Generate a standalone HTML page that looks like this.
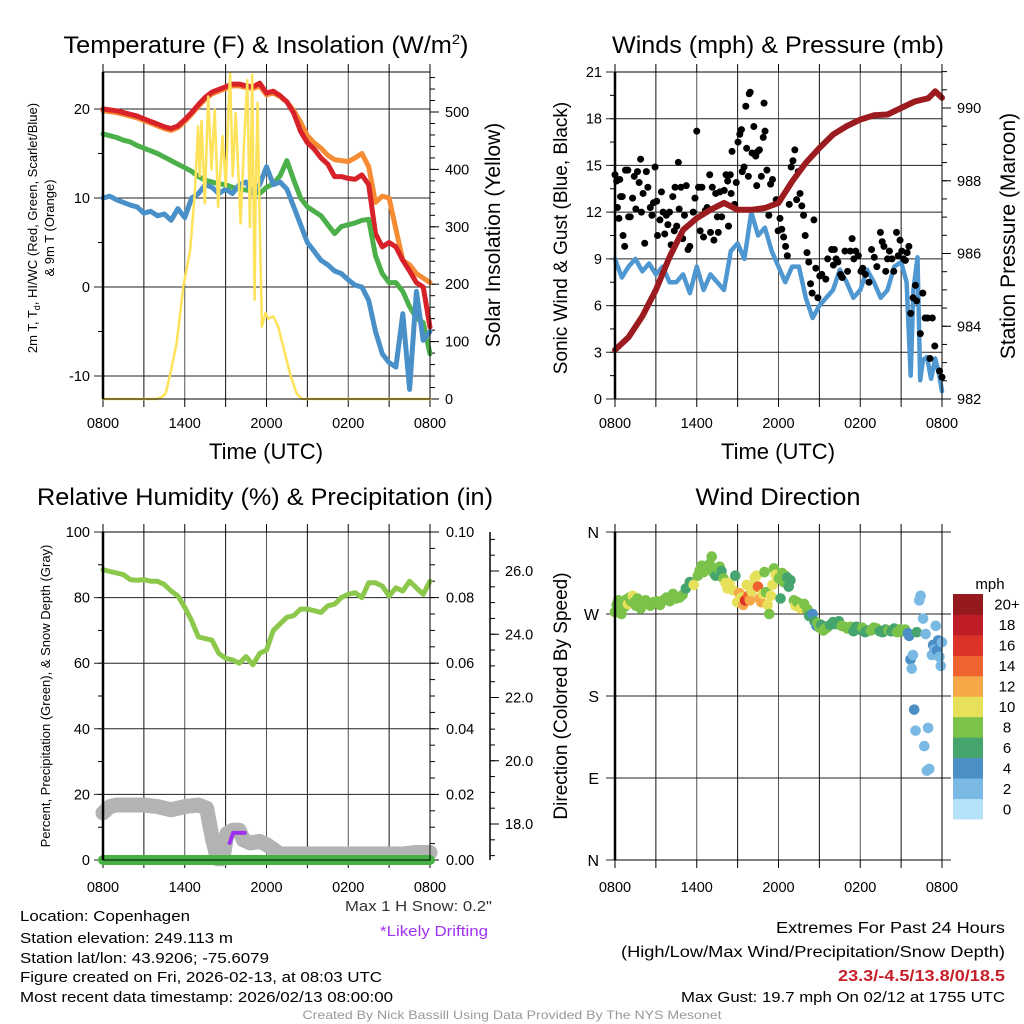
<!DOCTYPE html>
<html><head><meta charset="utf-8"><style>
html,body{margin:0;padding:0;background:#fff}
svg{display:block;font-family:"Liberation Sans",sans-serif}
</style></head><body>
<svg id="chart" width="1024" height="1024" viewBox="0 0 1024 1024" xmlns="http://www.w3.org/2000/svg">
<rect x="0" y="0" width="1024" height="1024" fill="#fff"/>
<text x="266" y="53" font-size="24" text-anchor="middle" textLength="405" lengthAdjust="spacingAndGlyphs">Temperature (F) &amp; Insolation (W/m<tspan dy="-9" font-size="14">2</tspan><tspan dy="9">)</tspan></text>
<text x="778" y="53" font-size="24" text-anchor="middle" textLength="332" lengthAdjust="spacingAndGlyphs">Winds (mph) &amp; Pressure (mb)</text>
<text x="265" y="505" font-size="24" text-anchor="middle" textLength="456" lengthAdjust="spacingAndGlyphs">Relative Humidity (%) &amp; Precipitation (in)</text>
<text x="778" y="505" font-size="24" text-anchor="middle" textLength="165" lengthAdjust="spacingAndGlyphs">Wind Direction</text>
<text x="266" y="459" font-size="22" text-anchor="middle">Time (UTC)</text>
<text x="778" y="459" font-size="22" text-anchor="middle">Time (UTC)</text>
<text transform="translate(37,228) rotate(-90)" font-size="13" text-anchor="middle">2m T, T<tspan font-size="9" dy="3">d</tspan><tspan dy="-3">, HI/WC (Red, Green, Scarlet/Blue)</tspan></text>
<text transform="translate(54,228) rotate(-90)" font-size="13" text-anchor="middle">&amp; 9m T (Orange)</text>
<text transform="translate(500,235) rotate(-90)" font-size="21" text-anchor="middle">Solar Insolation (Yellow)</text>
<text transform="translate(567,238) rotate(-90)" font-size="19" text-anchor="middle">Sonic Wind &amp; Gust (Blue, Black)</text>
<text transform="translate(1015,236) rotate(-90)" font-size="21" text-anchor="middle">Station Pressure (Maroon)</text>
<text transform="translate(50,696) rotate(-90)" font-size="13" text-anchor="middle">Percent, Precipitation (Green), &amp; Snow Depth (Gray)</text>
<text transform="translate(567,696) rotate(-90)" font-size="19" text-anchor="middle">Direction (Colored By Speed)</text>
<g id="plots"></g>
<text x="20" y="921" font-size="15" textLength="170" lengthAdjust="spacingAndGlyphs">Location: Copenhagen</text>
<text x="20" y="943" font-size="15" textLength="213" lengthAdjust="spacingAndGlyphs">Station elevation: 249.113 m</text>
<text x="20" y="963" font-size="15" textLength="249" lengthAdjust="spacingAndGlyphs">Station lat/lon: 43.9206; -75.6079</text>
<text x="20" y="982" font-size="15" textLength="362" lengthAdjust="spacingAndGlyphs">Figure created on Fri, 2026-02-13, at 08:03 UTC</text>
<text x="20" y="1002" font-size="15" textLength="373" lengthAdjust="spacingAndGlyphs">Most recent data timestamp: 2026/02/13 08:00:00</text>
<text x="345" y="911" font-size="15" fill="#333" textLength="147" lengthAdjust="spacingAndGlyphs">Max 1 H Snow: 0.2"</text>
<text x="380" y="936" font-size="15" fill="#a033f0" textLength="108" lengthAdjust="spacingAndGlyphs">*Likely Drifting</text>
<text x="1005" y="933" font-size="16" text-anchor="end" textLength="229" lengthAdjust="spacingAndGlyphs">Extremes For Past 24 Hours</text>
<text x="1005" y="957" font-size="16" text-anchor="end" textLength="384" lengthAdjust="spacingAndGlyphs">(High/Low/Max Wind/Precipitation/Snow Depth)</text>
<text x="1005" y="981" font-size="16" font-weight="bold" fill="#c8202a" text-anchor="end" textLength="167" lengthAdjust="spacingAndGlyphs">23.3/-4.5/13.8/0/18.5</text>
<text x="1005" y="1002" font-size="15" text-anchor="end" textLength="324" lengthAdjust="spacingAndGlyphs">Max Gust: 19.7 mph On 02/12 at 1755 UTC</text>
<text x="512" y="1019" font-size="12" fill="#999" text-anchor="middle" textLength="419" lengthAdjust="spacingAndGlyphs">Created By Nick Bassill Using Data Provided By The NYS Mesonet</text>
</svg>
<script>
// ---------- data ----------
const halfHours = [0,0.5,1,1.5,2,2.5,3,3.5,4,4.5,5,5.5,6,6.5,7,7.5,8,8.5,9,9.5,10,10.5,11,11.5,12,12.5,13,13.5,14,14.5,15,15.5,16,16.5,17,17.5,18,18.5,19,19.5,20,20.5,21,21.5,22,22.5,23,23.5,24];
const timeTickLabels = ["0800","1400","2000","0200","0800"];
const tempRed = [20.0,19.9,19.8,19.6,19.4,19.2,18.9,18.6,18.3,18.0,17.8,18.1,18.8,19.6,20.5,21.3,21.9,22.2,22.5,22.8,22.8,22.6,22.5,22.9,21.8,22.0,21.5,20.8,19.5,17.5,16.2,15.5,14.5,13.8,12.4,12.4,12.2,12.1,12.6,11.5,6.0,4.5,5.0,4.5,3.0,1.8,0.5,0.0,-4.5];
const tempOrange = [19.8,19.7,19.6,19.4,19.2,19.0,18.7,18.4,18.1,17.8,17.6,17.9,18.6,19.4,20.3,21.1,21.7,22.0,22.3,22.6,22.6,22.4,22.3,22.6,21.6,21.8,21.4,20.8,19.8,18.5,17.0,16.2,15.6,14.8,14.3,14.2,14.1,14.5,15.0,13.5,9.5,10.2,10.0,6.5,3.0,2.5,1.5,1.0,0.5];
const tempGreen = [17.2,17.0,16.8,16.5,16.3,15.9,15.6,15.3,15.0,14.6,14.2,13.8,13.4,13.0,12.4,12.0,11.8,11.6,11.5,11.2,11.0,10.9,10.8,10.5,11.2,11.6,12.5,14.2,12.0,10.0,9.0,8.5,8.0,7.0,6.0,6.8,7.0,7.2,7.5,7.6,3.5,1.5,0.5,0.5,-0.5,-2.2,-3.5,-4.0,-7.5];
const tempBlue = [10.0,10.2,9.8,9.5,9.2,9.0,8.3,8.5,8.0,8.2,7.5,8.8,7.8,10.0,10.5,11.5,11.2,10.5,11.0,10.5,11.5,11.8,10.5,11.5,13.5,11.5,11.8,11.0,9.0,7.0,5.0,4.0,3.0,2.5,1.8,1.5,0.8,0.2,0.0,-1.5,-5.0,-7.5,-8.5,-9.0,-3.0,-11.5,-0.5,-6.0,-5.0];
const solarHours = [0,3.9,4.3,4.6,4.9,5.4,5.9,6.4,6.74,6.98,7.1,7.23,7.47,7.72,7.96,8.2,8.45,8.77,9.01,9.21,9.33,9.52,9.74,10.1,10.34,10.59,10.78,10.95,11.13,11.2,11.35,11.49,11.66,11.93,12.13,12.5,12.86,13.23,13.72,14.2,14.6,24];
const solarValues = [0,0,3,10,40,97,196,260,359,475,388,484,341,527,400,504,335,458,370,504,568,388,498,306,440,556,300,565,173,350,516,318,126,150,140,144,126,91,45,10,0,0];
const windHours = [0,0.5,1,1.5,2,2.5,3,3.5,4,4.5,5,5.5,6,6.5,7,7.5,8,8.5,9,9.5,10,10.5,11,11.5,12,12.5,13,13.5,14,14.5,15,15.5,16,16.5,17,17.5,18,18.5,19,19.5,20,20.5,21,21.4,21.7,21.9,22.2,22.4,22.6,22.9,23.2,23.5,23.8,24];
const windSpeed = [9.0,7.8,8.5,9.0,8.2,8.7,8.0,8.5,7.5,7.5,8.0,6.8,8.5,7.0,8.0,7.5,7.0,9.5,10.0,9.0,12.0,10.5,11.0,9.5,8.5,7.5,8.5,8.5,6.5,5.2,6.0,6.5,7.0,8.3,7.5,6.5,7.0,8.3,7.5,6.5,7.0,8.5,8.8,7.5,1.5,7.0,9.1,1.2,2.5,2.7,1.3,2.6,1.5,0.5];
const pressureHours = [0,1,2,3,4,5,6,7,8,9,10,11,12,13,14,15,16,17,18,19,20,21,22,23,23.5,24];
const pressureValues = [983.35,983.7,984.27,985.0,985.9,986.65,986.97,987.2,987.39,987.2,987.2,987.25,987.39,987.98,988.49,988.9,989.27,989.5,989.68,989.8,989.82,990.0,990.18,990.27,990.46,990.28];
const gustHours = [0,0.12,0.18,0.29,0.35,0.41,0.53,0.59,0.71,0.77,0.94,1.0,1.12,1.29,1.41,1.53,1.65,1.77,1.88,1.94,2.06,2.18,2.3,2.41,2.59,2.71,2.82,2.94,3.06,3.12,3.3,3.41,3.53,3.65,3.77,3.88,4.0,4.12,4.24,4.35,4.41,4.53,4.65,4.71,4.84,4.97,5.1,5.23,5.36,5.49,5.74,5.87,6.0,6.13,6.25,6.38,6.5,6.63,6.76,6.95,7.01,7.14,7.26,7.39,7.51,7.58,7.7,7.83,8.02,8.15,8.27,8.33,8.46,8.52,8.59,8.78,8.9,9.03,9.16,9.28,9.34,9.47,9.6,9.66,9.79,9.85,9.92,10.06,10.19,10.33,10.4,10.47,10.6,10.74,10.88,10.94,11.01,11.15,11.29,11.42,11.56,11.83,11.97,12.11,12.24,12.38,12.52,12.65,12.79,12.93,13.06,13.2,13.33,13.45,13.58,13.71,13.84,13.96,14.09,14.22,14.35,14.47,14.6,14.74,14.89,15.03,15.18,15.47,15.61,15.9,16.03,16.1,16.23,16.36,16.55,16.68,16.88,17.07,17.27,17.4,17.53,17.66,17.86,18.05,18.18,18.38,18.64,18.83,19.03,19.22,19.48,19.61,19.74,19.87,20.0,20.14,20.33,20.46,20.66,20.79,20.92,21.05,21.18,21.31,21.44,21.57,21.7,21.88,22.05,22.14,22.41,22.59,22.76,22.94,23.12,23.29,23.47,23.82,24.0];
const gustValues = [14.4,14.0,12.3,11.6,14.1,13.0,13.0,10.5,9.8,14.7,14.7,11.7,11.7,12.9,14.3,12.2,14.6,13.9,15.4,12.0,13.2,10.0,14.6,13.6,12.3,11.8,12.6,14.9,12.7,10.5,11.5,13.3,12.0,10.6,11.8,11.2,12.0,9.9,13.0,10.8,13.6,11.1,15.2,12.2,13.6,10.3,11.8,13.7,9.6,9.8,12.0,12.9,17.2,13.6,10.8,13.6,10.4,12.1,12.3,14.4,10.7,13.6,10.2,13.2,11.7,10.7,13.3,11.7,13.4,14.4,14.0,11.1,14.4,13.2,15.9,12.5,13.9,16.5,17.0,17.3,14.6,14.9,18.8,16.1,14.3,19.6,19.7,15.8,17.5,15.6,13.7,15.9,16.0,14.3,16.8,19.0,17.2,14.7,11.8,13.8,14.1,12.8,10.8,11.6,10.9,10.4,9.8,9.2,12.5,14.9,15.3,16.0,12.8,14.6,13.2,12.4,11.8,10.5,9.4,8.8,7.4,6.8,11.5,8.4,6.5,7.9,8.0,7.7,9.0,9.6,8.6,9.6,9.0,8.8,8.0,7.8,9.5,8.2,9.5,10.3,9.0,9.5,9.2,8.2,8.4,8.0,7.5,9.6,9.1,8.5,10.7,10.1,9.8,8.2,9.0,9.5,9.0,8.2,10.7,9.2,10.2,9.5,9.0,8.9,9.4,9.8,5.5,6.5,7.3,6.3,4.2,6.8,5.2,5.2,2.6,5.2,3.4,1.8,1.4];
const rhHumidity = [88.5,88,87.5,87,85.5,85.3,85.5,85,85,84,82,80.5,77,73,68,67.5,67,63,61.5,61,60,62,59.5,63,64,70,72,74,74.5,76.5,76.5,76,75.5,77.5,78,80,81,81.5,80,84.5,84.5,83.5,80.5,83,82,85,83,81,85];
const precipValues = [0,0,0,0,0,0,0,0,0,0,0,0,0,0,0,0,0,0,0,0,0,0,0,0,0,0,0,0,0,0,0,0,0,0,0,0,0,0,0,0,0,0,0,0,0,0,0,0,0];
const snowHours = [0,0.5,1,2,3,4,5,6,7,7.6,8.0,8.4,8.8,9.1,9.5,10,10.3,10.8,11.5,12,12.5,13,14,18,22,23,24];
const snowDepth = [18.35,18.55,18.6,18.6,18.6,18.55,18.45,18.55,18.6,18.5,17.6,16.9,16.9,17.7,17.8,17.8,17.5,17.4,17.45,17.35,17.2,17.05,17.05,17.05,17.05,17.1,17.1];
const driftHours = [9.3,9.55,10.4];
const driftDepth = [17.4,17.72,17.72];
const dirHours = [0,0.12,0.24,0.35,0.47,0.59,0.71,0.83,0.95,1.06,1.18,1.3,1.42,1.54,1.65,1.77,1.89,2.01,2.13,2.25,2.36,2.6,2.84,3.07,3.31,3.55,3.78,4.02,4.26,4.49,4.73,4.96,5.2,5.49,5.78,6.08,6.22,6.37,6.51,6.81,6.95,7.1,7.24,7.39,7.53,7.68,7.82,7.96,8.11,8.25,8.4,8.68,8.83,8.97,9.12,9.26,9.41,9.55,9.67,9.79,9.9,10.02,10.14,10.26,10.38,10.49,10.61,10.73,10.85,10.97,11.08,11.2,11.32,11.44,11.56,11.67,11.79,12.03,12.15,12.26,12.38,12.5,12.63,12.75,12.88,13.13,13.25,13.38,13.63,13.88,14.13,14.25,14.5,14.64,14.79,14.86,15.0,15.14,15.29,15.43,15.57,15.79,16.0,16.21,16.43,16.64,16.86,17.07,17.29,17.5,17.71,17.93,18.14,18.36,18.57,18.79,19.0,19.21,19.43,19.64,19.86,20.07,20.29,20.5,20.71,20.93,21.14,21.29,21.5,21.59,21.69,21.78,21.87,21.96,22.06,22.15,22.33,22.43,22.61,22.7,22.8,22.89,22.98,23.07,23.26,23.35,23.44,23.54,23.63,23.72,23.81,23.91,24.0];
const dirValues = [272,280,285,276,270,282,278,286,281,288,284,290,283,279,287,282,276,283,281,285,282,279,283,284,280,285,288,284,292,287,288,291,298,305,302,312,318,323,316,319,325,333,315,312,320,322,317,309,304,298,304,296,312,283,293,288,280,285,302,290,285,295,300,310,312,300,287,283,292,316,294,280,270,290,302,320,313,309,287,315,305,312,310,300,307,285,279,283,276,281,275,268,270,262,257,260,255,258,252,254,255,258,261,259,262,257,256,254,256,251,256,253,255,250,252,252,255,254,251,250,253,252,251,254,250,253,251,253,249,246,220,210,225,165,142,250,285,290,265,125,248,98,145,100,225,236,231,257,230,241,223,213,239];
const dirSpeeds = [7,8,8,8,8,8,8,8,9,8,8,10,8,8,8,8,8,8,8,8,8,8,8,8,8,8,8,8,8,8,8,7,6,6,10,8,8,8,8,8,8,8,8,6,8,8,6,8,10,10,10,10,6,10,12,10,12,16,10,13,12,10,10,10,10,14,12,12,10,8,8,10,8,10,10,8,10,8,6,8,8,8,6,6,6,8,10,8,10,8,8,5,4,5,4,8,8,6,8,8,8,6,6,6,6,8,8,8,8,6,6,6,8,6,6,8,8,8,6,6,6,8,6,6,8,8,8,8,4,4,3,1,1,3,1,6,2,1,2,1,2,1,1,1,2,3,1,2,3,3,2,1,2];
const speedBinLabels = ["0","2","4","6","8","10","12","14","16","18","20+"];
const speedBinColors = ["#b4e2f8","#7ab9e4","#4b8fc6","#46a56e","#7bc24a","#e6e05b","#f6a748","#ef6331","#db3229","#bf1e27","#951a1d"];
const tempTicks = [-10,0,10,20];
const solarTicks = [0,100,200,300,400,500];
const windTicks = [0,3,6,9,12,15,18,21];
const pressureTicks = [982,984,986,988,990];
const rhTicks = [0,20,40,60,80,100];
const precipTicks = ["0.00","0.02","0.04","0.06","0.08","0.10"];
const snowTicks = ["18.0","20.0","22.0","24.0","26.0"];
const dirTickLabels = ["N","E","S","W","N"];
</script>
<script>
const NS = "http://www.w3.org/2000/svg";
const root = document.getElementById("plots");
function mk(tag, attrs, parent) {
  const el = document.createElementNS(NS, tag);
  for (const k in attrs) el.setAttribute(k, attrs[k]);
  (parent || root).appendChild(el);
  return el;
}
function lin(d0, d1, r0, r1) { return v => r0 + (v - d0) * (r1 - r0) / (d1 - d0); }
function pathFrom(xs, ys, fx, fy) {
  let d = "";
  for (let i = 0; i < xs.length; i++) d += (i ? "L" : "M") + fx(xs[i]).toFixed(1) + "," + fy(ys[i]).toFixed(1);
  return d;
}
function drawLine(xs, ys, fx, fy, color, w, name) {
  const p = mk("path", {d: pathFrom(xs, ys, fx, fy), fill: "none", stroke: color, "stroke-width": w, "stroke-linejoin": "round", "stroke-linecap": "round"});
  
  
  return p;
}
function txt(x, y, s, size, anchor, name, color) {
  const t = mk("text", {x: x, y: y, "font-size": size, "text-anchor": anchor, fill: color || "#000"});
  t.textContent = s;
  
  
  return t;
}
function seg(x1, y1, x2, y2, color, w, name) {
  const l = mk("line", {x1: x1, y1: y1, x2: x2, y2: y2, stroke: color, "stroke-width": w});
  
  
  return l;
}
function frame(x0, y0, x1, y1, labelY, prefix) {
  const fx = lin(0, 24, x0, x1);
  for (let h = 3; h < 24; h += 3) seg(fx(h), y0, fx(h), y1, (h % 6 === 0) ? "#555" : "#111", 1, prefix + "-vgrid");
  for (let h = 0; h <= 24; h += 3) {
    seg(fx(h), y0 - 8, fx(h), y0, "#000", 1, prefix + "-top-tick");
    seg(fx(h), y1, fx(h), y1 + 8, "#000", 1, prefix + "-bottom-tick");
  }
  for (let i = 0; i < timeTickLabels.length; i++) txt(fx(i * 6), labelY, timeTickLabels[i], 14.5, "middle", prefix + "-x-tick-label");
  return fx;
}
function border(x0, y0, x1, y1, prefix) {
  const r = mk("rect", {x: x0, y: y0, width: x1 - x0, height: y1 - y0, fill: "none", stroke: "#000", "stroke-width": 1});
  
  
  seg(x0, y0, x0, y1, "#000", 2.5, prefix + "-left-axis-line");
}
function leftAxis(x0, x1, fy, ticks, labels, minorStep, lo, hi, prefix, grid) {
  for (let v = lo; v <= hi + 1e-9; v += minorStep) seg(x0 - 5, fy(v), x0, fy(v), "#000", 1, prefix + "-left-minor-tick");
  ticks.forEach((v, i) => {
    if (grid) seg(x0 - 9, fy(v), x1, fy(v), "#222", 1, prefix + "-hgrid");
    txt(x0 - 13, fy(v) + 5, labels[i], 14.5, "end", prefix + "-left-tick-label");
  });
}
function rightAxis(x1, fy, ticks, labels, minorStep, lo, hi, prefix, off) {
  for (let v = lo; v <= hi + 1e-9; v += minorStep) seg(x1, fy(v), x1 + 5, fy(v), "#000", 1, prefix + "-right-minor-tick");
  ticks.forEach((v, i) => {
    seg(x1, fy(v), x1 + 9, fy(v), "#000", 1, prefix + "-right-tick");
    txt(x1 + (off || 15), fy(v) + 5, labels[i], 14.5, "start", prefix + "-right-tick-label");
  });
}

// ===== Panel 1: temperature =====
(function () {
  const x0 = 103, x1 = 430, y0 = 72, y1 = 399;
  const fy = lin(0, 20, 287, 109);
  const fs = lin(0, 500, 399, 112);
  const fx = frame(x0, y0, x1, y1, 428, "temp");
  leftAxis(x0, x1, fy, tempTicks, tempTicks.map(String), 5, -10, 20, "temp", true);
  rightAxis(x1, fs, solarTicks, solarTicks.map(String), 20, 0, 560, "solar");
  drawLine(halfHours, tempOrange, fx, fy, "#f58b33", 5, "temp-9m-orange-line");
  drawLine(halfHours, tempRed, fx, fy, "#d7222a", 5, "temp-2m-red-line");
  drawLine(halfHours, tempGreen, fx, fy, "#4cb04a", 5, "dewpoint-green-line");
  drawLine(halfHours, tempBlue, fx, fy, "#4a90c8", 5, "windchill-blue-line");
  drawLine(solarHours, solarValues, fx, fs, "#fde25a", 2.5, "solar-yellow-line");
  border(x0, y0, x1, y1, "temp");
})();

// ===== Panel 2: winds & pressure =====
(function () {
  const x0 = 615, x1 = 942, y0 = 72, y1 = 399;
  const fy = lin(0, 21, 399, 72);
  const fp = lin(982, 990, 399, 108);
  const fx = frame(x0, y0, x1, y1, 428, "wind");
  leftAxis(x0, x1, fy, windTicks, windTicks.map(String), 1.5, 0, 21, "wind", true);
  rightAxis(x1, fp, pressureTicks, pressureTicks.map(String), 0.5, 982, 991, "pressure");
  drawLine(windHours, windSpeed, fx, fy, "#4f97d1", 4.5, "sonic-wind-blue-line");
  const g = mk("g", {});
  
  
  for (let i = 0; i < gustHours.length; i++) {
    const c = mk("circle", {cx: fx(gustHours[i]), cy: fy(gustValues[i]), r: 3.5, fill: "#000"}, g);
    
    
  }
  drawLine(pressureHours, pressureValues, fx, fp, "#9c1b1f", 6, "pressure-maroon-line");
  border(x0, y0, x1, y1, "wind");
})();

// ===== Panel 3: humidity, precip, snow =====
(function () {
  const x0 = 103, x1 = 430, y0 = 532, y1 = 860;
  const fy = lin(0, 100, 860, 532);
  const fpr = lin(0, 0.1, 860, 532);
  const fsn = lin(18, 26, 824, 571);
  const fx = frame(x0, y0, x1, y1, 892, "rh");
  leftAxis(x0, x1, fy, rhTicks, rhTicks.map(String), 10, 0, 100, "rh", true);
  rightAxis(x1, fpr, [0,0.02,0.04,0.06,0.08,0.1], precipTicks, 0.005, 0, 0.1, "precip", 16);
  seg(490, 532, 490, 860, "#000", 1.5, "snow-axis-line");
  for (let v = 17; v <= 27.2; v += 0.5) seg(490, fsn(v), 495, fsn(v), "#000", 1, "snow-minor-tick");
  snowTicks.forEach(s => {
    seg(490, fsn(+s), 499, fsn(+s), "#000", 1, "snow-tick");
    txt(505, fsn(+s) + 5, s, 14.5, "start", "snow-tick-label");
  });
  drawLine(snowHours, snowDepth, fx, fsn, "#b3b3b3", 15, "snow-depth-gray-line");
  drawLine(driftHours, driftDepth, fx, fsn, "#a030f0", 4, "drifting-purple-line");
  drawLine(halfHours, precipValues, fx, fpr, "#46b245", 10, "precip-green-line");
  drawLine(halfHours, rhHumidity, fx, fy, "#8cc84b", 5, "humidity-green-line");
  border(x0, y0, x1, y1, "rh");
})();

// ===== Panel 4: wind direction =====
(function () {
  const x0 = 615, x1 = 942, y0 = 532, y1 = 860;
  const fy = lin(0, 360, 860, 532);
  const fx = frame(x0, y0, x1, y1, 892, "dir");
  for (let i = 0; i < dirTickLabels.length; i++) {
    seg(x0 - 9, fy(i * 90), x1 + 9, fy(i * 90), "#222", 1, "dir-hgrid");
    txt(x0 - 16, fy(i * 90) + 6, dirTickLabels[i], 16, "end", "dir-tick-label");
  }
  const g = mk("g", {});
  
  
  for (let i = 0; i < dirHours.length; i++) {
    const bin = Math.min(10, Math.round(dirSpeeds[i] / 2));
    const c = mk("circle", {cx: fx(dirHours[i]), cy: fy(dirValues[i]), r: 5.3, fill: speedBinColors[bin]}, g);
    
    
  }
  border(x0, y0, x1, y1, "dir");
  const cbTop = 594, cbBot = 819, bh = (cbBot - cbTop) / speedBinColors.length;
  txt(990, 589, "mph", 15, "middle", "colorbar-title");
  for (let i = 0; i < speedBinColors.length; i++) {
    const yy = cbBot - (i + 1) * bh;
    const r = mk("rect", {x: 953, y: yy, width: 30, height: bh + 0.5, fill: speedBinColors[i]});
    
    
    txt(1007, yy + bh / 2 + 5.5, speedBinLabels[i], 15, "middle", "colorbar-label");
  }
})();
</script>
</body></html>
